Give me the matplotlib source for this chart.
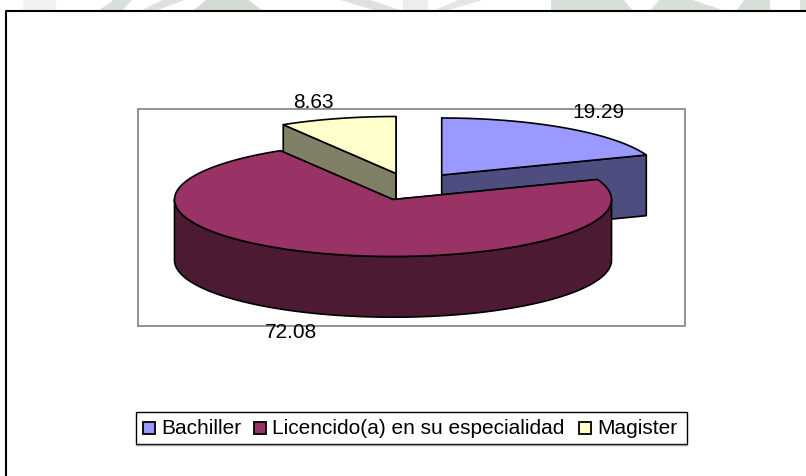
#!/usr/bin/env python3

# 3D looking exploded pie, drawn with polygons because matplotlib has no such pie.

import numpy as np
import matplotlib
matplotlib.use("Agg")
import matplotlib.pyplot as plt
from matplotlib.patches import Polygon, Rectangle

FIG_W = 806
FIG_H = 477

labels = ["Bachiller", "Licencido(a) en su especialidad", "Magister"]
values = [19.29, 72.08, 8.63]
value_texts = ["19.29", "72.08", "8.63"]

top_colors = ["#9999FF", "#993366", "#FFFFCC"]
side_colors = ["#4D4D80", "#4D1A33", "#808066"]

# apex of each slice after the explosion, in pixels
centers = [(441.7, 176.0), (393.0, 200.5), (396.0, 174.5)]
RX = 218.5
RY = 57.0
DEPTH = 60.7

label_pos = [(598, 113), (291, 333), (313.5, 102)]
legend_swatch_x = [142.5, 253.5, 578.5]
legend_text_x = [161, 272.5, 597.5]

# faint logo behind the page, only visible above the frame
# x at bottom left, top left, top right, bottom right
WATERMARK = [
    ([22, 24, 57, 55], "#F2F3F0"),
    ([98, 115, 133, 122], "#D8DED8"),
    ([140, 165, 187, 155], "#DDE2DD"),
    ([193, 207, 247, 263], "#D4DBD4"),
    ([377, 337, 367, 403], "#DDE2DD"),
    ([403, 403, 428, 428], "#ECEEEA"),
    ([433, 460, 486, 445], "#E2E7E2"),
    ([551, 551, 623, 633], "#D8DED8"),
    ([650, 660, 690, 725], "#D8DED8"),
    ([736, 745, 770, 770], "#D8DED8"),
    ([800, 800, 806, 806], "#DDE2DD"),
]


def arc(center, start, stop, n=120):
    t = np.radians(np.linspace(start, stop, n))
    x = center[0] + RX * np.sin(t)
    y = center[1] - RY * np.cos(t)
    return np.column_stack([x, y])


def add_poly(ax, pts, color):
    ax.add_patch(Polygon(pts, closed=True, facecolor=color, edgecolor="black", linewidth=1.2, joinstyle="round"))


def draw_slice(ax, center, start, stop, top, side):
    c = np.array(center)
    down = np.array([0, DEPTH])
    # cut faces, only the ones turned to the viewer show up
    for ang in (start, stop):
        edge = arc(center, ang, ang, 1)[0]
        add_poly(ax, [c, edge, edge + down, c + down], side)
    # outer wall, front half of the rim
    lo = max(start, 90)
    hi = min(stop, 270)
    if lo < hi:
        rim = arc(center, lo, hi)
        add_poly(ax, np.vstack([rim, (rim + down)[::-1]]), side)
    add_poly(ax, np.vstack([c, arc(center, start, stop)]), top)


def main():
    fig = plt.figure(figsize=(FIG_W / 100, FIG_H / 100), dpi=100)
    ax = fig.add_axes([0, 0, 1, 1])
    ax.set_xlim(0, FIG_W)
    ax.set_ylim(FIG_H, 0)
    ax.axis("off")

    for xs, color in WATERMARK:
        ax.fill(xs, [12, 0, 0, 12], color=color, linewidth=0)

    # page frame: open on the right and at the bottom
    ax.plot([6, 6, FIG_W], [FIG_H, 12, 12], color="black", linewidth=1.5)

    # plot area
    ax.add_patch(Rectangle((137.5, 110), 547.5, 216.5, facecolor="white", edgecolor="#808080", linewidth=1.2))

    stops = np.cumsum(values) / sum(values) * 360
    starts = np.concatenate([[0], stops[:-1]])
    # the big slice sits in front of the two others
    for i in [0, 2, 1]:
        draw_slice(ax, centers[i], starts[i], stops[i], top_colors[i], side_colors[i])

    for txt, (x, y) in zip(value_texts, label_pos):
        ax.text(x, y, txt, fontsize=15, family="Liberation Sans", ha="center", va="center", color="black")

    # legend
    ax.add_patch(Rectangle((135.5, 412.5), 551, 32, facecolor="white", edgecolor="black", linewidth=1.0))
    ax.plot([136, 687], [445.5, 445.5], color="#999999", linewidth=1.0)
    for i, name in enumerate(labels):
        ax.add_patch(Rectangle((legend_swatch_x[i], 422.5), 12.5, 12.5, facecolor=top_colors[i], edgecolor="black", linewidth=1.3))
        ax.text(legend_text_x[i], 428.5, name, fontsize=15, family="Liberation Sans", ha="left", va="center", color="black")

    fig.savefig("out.png", dpi=100, facecolor="white")
    plt.close(fig)


if __name__ == "__main__":
    main()
